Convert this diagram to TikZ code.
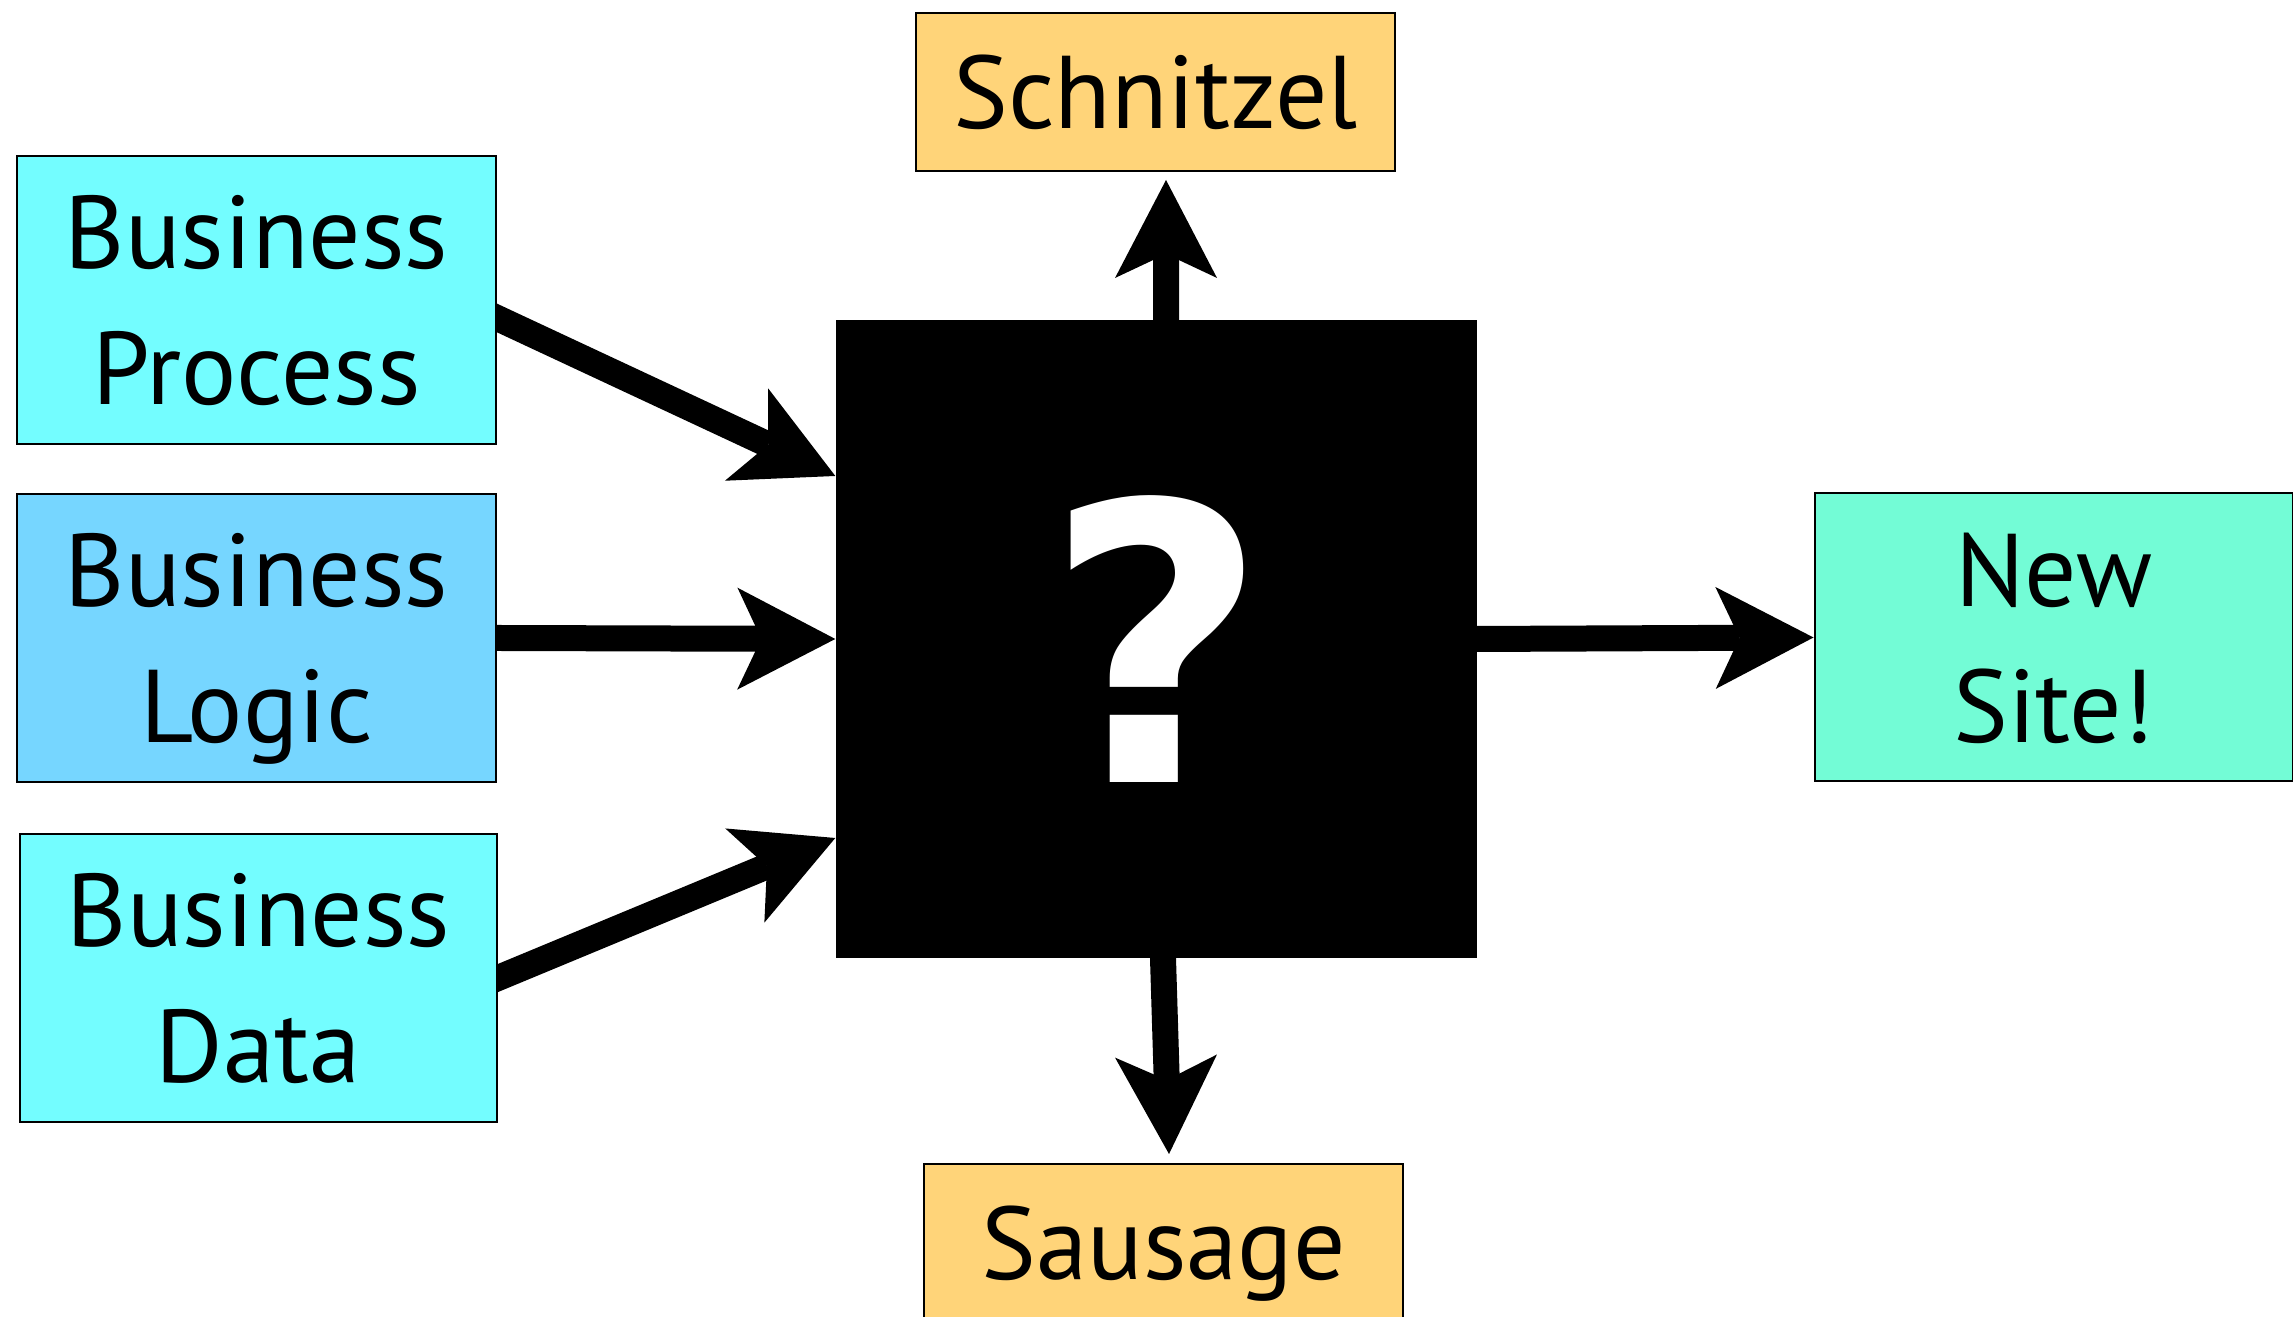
\documentclass[tikz,border=0pt]{standalone}
\usepackage{fontspec}
\setmainfont{PT Sans}
\newfontfamily\qmfont{DejaVu Sans}
\usepackage{tikz}
\usetikzlibrary{arrows.meta,backgrounds}
\definecolor{ice}{HTML}{73FDFF}
\definecolor{sky}{HTML}{76D6FF}
\definecolor{spindrift}{HTML}{73FCD6}
\definecolor{cantaloupe}{HTML}{FFD479}
\begin{document}
\begin{tikzpicture}[
    box/.style={draw=black, line width=0.2mm, inner sep=0pt, minimum width=4.79cm,
      align=center, text depth=0pt, font=\fontsize{29.4}{38.8}\selectfont},
    tall/.style={box, minimum height=2.88cm},
    flat/.style={box, minimum height=1.58cm},
    feed/.style={line width=2.6mm, shorten <=-4mm,
      -{Stealth[length=9.8mm, width=10.2mm, inset=2.4mm, line width=0pt]}}]
      \useasboundingbox (0,0) rectangle (22.93,13.17);
      \node[tall, fill=ice] (bp) at (2.565,10.17) {Business\\Process};
      \node[tall, fill=sky] (bl) at (2.565,6.79) {Business\\Logic};
      \node[tall, fill=ice, minimum width=4.77cm] (bd) at (2.585,3.39) {Business\\Data};
      \node[flat, fill=cantaloupe] (sch) at (11.555,12.25) {Schnitzel};
      \node[flat, fill=cantaloupe] (sau) at (11.635,0.74) {Sausage};
      \node[tall, fill=spindrift, minimum width=4.78cm] (site) at (20.535,6.795) {New\\Site!};
      \node[fill=black, inner sep=0pt, minimum width=6.41cm, minimum height=6.38cm] (q) at (11.565,6.78) {};
      \node[text=white, text depth=0pt, font=\qmfont\bfseries\fontsize{110}{120}\selectfont] (qm) at (q) {?};
      \begin{scope}[on background layer]
      \draw[feed] ([yshift=-1.8mm]bp.east) -- ([yshift=16.3mm]q.west);
      \draw[feed] (bl.east) -- (q.west);
      \draw[feed] (bd.east) -- ([yshift=-19.9mm]q.west);
      \draw[feed] (q.east) -- (site.west);
      \draw[feed] ([xshift=0.95mm]q.north) -- ([xshift=1.05mm,yshift=-0.8mm]sch.south);
      \draw[feed] ([xshift=0.65mm]q.south) -- ([xshift=0.55mm,yshift=0.9mm]sau.north);
      \end{scope}
\end{tikzpicture}
\end{document}
